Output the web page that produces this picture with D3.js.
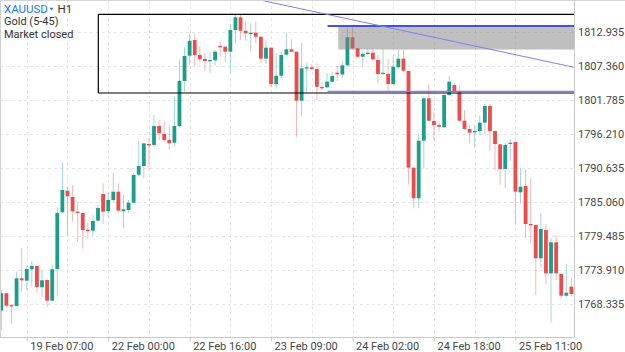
<!DOCTYPE html>
<html>
<head>
<meta charset="utf-8">
<script src="https://cdn.jsdelivr.net/npm/d3@7/dist/d3.min.js"></script>
<style>
body { margin: 0; background: #fff; }
text { font-family: Roboto, "Liberation Sans", Arial, sans-serif; }
</style>
</head>
<body>
<div class="chart-area"></div>
<script>
// XAUUSD H1 candles, left to right
let open = [1767.26,1770.11,1768.16,1768.03,1772.56,1772.17,1774.04,1774.58,1771.09,1772.28,
    1768.89,1774.08,1783.37,1786.90,1785.87,1783.47,1783.25,1780.52,1780.35,1781.99,
    1786.36,1783.53,1785.38,1786.74,1783.53,1783.74,1784.94,1789.52,1790.95,1794.55,
    1794.39,1797.50,1796.19,1795.20,1794.76,1797.50,1804.86,1809.01,1811.58,1809.12,
    1808.47,1808.19,1808.25,1810.59,1810.48,1809.66,1813.21,1815.29,1813.10,1812.61,
    1812.77,1812.12,1808.52,1810.32,1804.37,1805.73,1809.17,1810.05,1809.66,1801.64,
    1806.99,1807.11,1806.83,1803.88,1803.83,1804.75,1806.22,1805.93,1807.43,1812.02,
    1810.22,1808.84,1809.28,1809.50,1808.30,1806.06,1806.01,1804.37,1807.11,1808.52,
    1806.50,1790.67,1785.66,1795.09,1802.03,1798.32,1797.66,1797.28,1802.57,1804.21,
    1803.11,1798.36,1797.01,1796.51,1796.68,1798.04,1800.77,1796.68,1794.50,1790.46,
    1794.55,1794.88,1786.64,1787.67,1781.45,1781.29,1775.84,1780.47,1773.38,1778.46,
    1773.27,1769.71,1771.19];
let high = [1770.65,1770.11,1768.35,1773.64,1777.57,1774.46,1775.39,1774.58,1773.92,1772.28,
    1774.74,1784.19,1791.55,1787.46,1787.84,1785.10,1783.25,1781.66,1782.93,1784.56,
    1788.12,1786.58,1789.75,1788.12,1786.20,1785.38,1789.75,1795.04,1794.71,1795.58,
    1799.30,1798.48,1798.20,1797.66,1802.29,1808.42,1810.38,1812.56,1812.56,1810.48,
    1809.50,1809.66,1809.94,1811.41,1810.48,1814.20,1815.67,1815.67,1814.69,1814.31,
    1814.69,1812.12,1811.46,1810.32,1809.40,1809.66,1812.77,1811.69,1809.66,1811.04,
    1807.76,1807.65,1807.76,1804.59,1806.12,1806.39,1807.32,1808.14,1813.66,1813.66,
    1810.22,1809.66,1810.05,1810.22,1809.12,1810.05,1808.42,1808.84,1810.05,1810.05,
    1806.50,1790.67,1796.30,1802.20,1804.37,1799.84,1798.20,1802.74,1805.68,1804.59,
    1804.21,1800.12,1797.66,1797.66,1799.13,1801.10,1801.10,1796.68,1794.50,1794.76,
    1795.37,1794.88,1790.67,1790.41,1788.93,1781.29,1783.20,1781.45,1779.21,1779.65,
    1773.27,1774.90,1772.73];
let low = [1764.10,1767.70,1765.08,1767.91,1770.37,1770.65,1771.19,1770.20,1769.55,1767.91,
    1768.85,1769.55,1783.25,1779.54,1781.83,1778.55,1777.41,1779.11,1779.49,1781.86,
    1781.45,1782.55,1784.94,1783.47,1780.75,1783.30,1784.81,1789.30,1788.93,1790.41,
    1794.11,1795.20,1794.93,1793.57,1794.11,1797.33,1803.11,1807.48,1807.32,1808.02,
    1806.50,1806.22,1807.37,1808.84,1807.97,1806.22,1811.04,1811.58,1811.46,1809.82,
    1811.04,1807.76,1807.65,1803.83,1803.67,1805.31,1808.84,1809.61,1795.74,1799.13,
    1803.11,1806.66,1801.75,1803.39,1803.72,1804.49,1804.86,1805.31,1807.21,1809.94,
    1808.58,1807.21,1809.12,1808.19,1804.49,1805.85,1803.23,1804.21,1806.78,1806.39,
    1787.95,1784.02,1784.02,1790.57,1798.23,1795.20,1796.73,1797.12,1802.41,1802.95,
    1798.23,1796.89,1794.66,1793.94,1796.02,1796.19,1793.45,1790.29,1787.84,1787.30,
    1791.77,1781.45,1784.73,1779.11,1778.29,1769.83,1774.46,1771.63,1765.29,1772.28,
    1769.29,1769.45,1769.55];
let close = [1770.11,1768.08,1767.99,1772.56,1772.23,1774.08,1774.58,1771.14,1772.23,1768.89,
    1774.04,1783.25,1787.02,1785.99,1783.53,1783.25,1780.47,1780.35,1781.94,1784.07,
    1783.47,1785.38,1786.74,1783.63,1783.86,1784.94,1789.47,1790.95,1794.66,1794.39,
    1797.50,1796.30,1795.20,1794.66,1797.50,1804.86,1808.96,1811.46,1809.12,1808.47,
    1808.14,1808.30,1809.66,1810.48,1809.66,1813.21,1815.29,1813.10,1812.67,1812.77,
    1812.12,1808.52,1810.32,1804.37,1805.73,1809.12,1810.05,1809.66,1801.64,1806.94,
    1807.11,1806.83,1803.93,1803.72,1804.75,1805.68,1805.96,1807.43,1812.02,1810.22,
    1808.84,1809.28,1809.50,1808.42,1806.01,1806.22,1804.37,1807.21,1808.52,1806.55,
    1790.67,1785.66,1795.09,1802.03,1798.36,1797.66,1797.38,1802.57,1804.75,1803.11,
    1798.36,1797.01,1796.40,1796.68,1798.04,1800.77,1796.68,1794.55,1790.46,1794.39,
    1794.76,1786.74,1787.56,1781.45,1781.29,1775.84,1780.63,1773.38,1778.46,1773.38,
    1769.71,1770.20,1769.99];

let priceTicks = [1812.935, 1807.360, 1801.785, 1796.210, 1790.635, 1785.060, 1779.485, 1773.910, 1768.335];
let gridBars = [5, 13, 21, 29, 37, 45, 53, 61, 69, 77, 85, 93, 101];
let labelBars = [5, 21, 37, 53, 69, 85, 101];
let labelTexts = ["19 Feb 07:00", "22 Feb 00:00", "22 Feb 16:00", "23 Feb 09:00", "24 Feb 02:00", "24 Feb 18:00", "25 Feb 11:00"];

// objects drawn on the chart (bar index / price)
let boxStart = 19.06, boxTop = 1815.78, boxBottom = 1802.90;
let zoneStart = 66.2, zoneTop = 1813.70, zoneBottom = 1810.02;
let levelStart = 64.1, upperLevel = 1813.87, lowerLevel = 1803.14;
let trendBars = [30, 112.5], trendPrices = [1821.84, 1807.11];

let W = 625, H = 352;
let plotR = 574.5, plotB = 337.5;
let upCol = "#1b9e8c", downCol = "#ef4b4b";

let svg = d3.select(".chart-area").append("svg")
    .attr("width", W)
    .attr("height", H)
    .style("display", "block")

let x = d3.scaleLinear().domain([0, 112]).range([1.3, 571.4]);
let y = d3.scaleLinear().domain([1768.335, 1812.935]).range([304.1, 31.7]);

svg.append("clipPath").attr("id", "plot-clip")
    .append("rect")
    .attr("x", 0).attr("y", 0)
    .attr("width", plotR).attr("height", plotB)

// grid
svg.selectAll(".hgrid").data(priceTicks).enter().append("line")
    .attr("x1", 0).attr("x2", plotR)
    .attr("y1", d => Math.round(y(d)) + 0.5)
    .attr("y2", d => Math.round(y(d)) + 0.5)
    .attr("stroke", "#e6e6e6")
    .attr("stroke-dasharray", "3,3")
svg.selectAll(".vgrid").data(gridBars).enter().append("line")
    .attr("x1", d => Math.round(x(d)) + 0.5)
    .attr("x2", d => Math.round(x(d)) + 0.5)
    .attr("y1", 0).attr("y2", plotB)
    .attr("stroke", "#e6e6e6")
    .attr("stroke-dasharray", "3,3")

let plot = svg.append("g").attr("clip-path", "url(#plot-clip)");

let bars = d3.range(open.length);

plot.selectAll(".wick").data(bars).enter().append("line")
    .attr("x1", i => x(i)).attr("x2", i => x(i))
    .attr("y1", i => y(high[i]))
    .attr("y2", i => y(low[i]))
    .attr("stroke", i => close[i] >= open[i] ? upCol : downCol)
    .attr("stroke-opacity", 0.4)
    .attr("stroke-width", 1)

plot.selectAll(".body").data(bars).enter().append("rect")
    .attr("x", i => x(i) - 1.9)
    .attr("width", 3.8)
    .attr("y", i => y(Math.max(open[i], close[i])))
    .attr("height", i => Math.max(1.3, Math.abs(y(open[i]) - y(close[i]))))
    .attr("fill", i => close[i] >= open[i] ? upCol : downCol)

// drawings
plot.append("rect")
    .attr("x", x(zoneStart))
    .attr("y", y(zoneTop))
    .attr("width", plotR - x(zoneStart))
    .attr("height", y(zoneBottom) - y(zoneTop))
    .attr("fill", "#808080")
    .attr("fill-opacity", 0.5)

plot.append("path")
    .attr("d", "M" + x(boxStart) + "," + (y(boxTop)) + "H" + (plotR + 10) + "M" + x(boxStart) + "," + y(boxBottom) + "H" + (plotR + 10) + "M" + x(boxStart) + "," + y(boxTop) + "V" + y(boxBottom))
    .attr("fill", "none")
    .attr("stroke", "#000")
    .attr("stroke-width", 1.2)

plot.append("line")
    .attr("x1", x(levelStart)).attr("x2", plotR)
    .attr("y1", y(upperLevel)).attr("y2", y(upperLevel))
    .attr("stroke", "#0a14d8")
    .attr("stroke-width", 1.6)
plot.append("line")
    .attr("x1", x(levelStart)).attr("x2", plotR)
    .attr("y1", y(lowerLevel)).attr("y2", y(lowerLevel))
    .attr("stroke", "#8080f2")
    .attr("stroke-width", 1.6)

plot.append("line")
    .attr("x1", x(trendBars[0])).attr("x2", x(trendBars[1]))
    .attr("y1", y(trendPrices[0])).attr("y2", y(trendPrices[1]))
    .attr("stroke", "#7f7ff5")
    .attr("stroke-width", 1)

// frame
svg.append("line").attr("x1", 0).attr("x2", W).attr("y1", 0.5).attr("y2", 0.5).attr("stroke", "#d6d6d6")
svg.append("line").attr("x1", 0.5).attr("x2", 0.5).attr("y1", 0).attr("y2", plotB).attr("stroke", "#d0d0d0")
svg.append("line").attr("x1", plotR).attr("x2", plotR).attr("y1", 0).attr("y2", plotB).attr("stroke", "#c8c8c8")
svg.append("line").attr("x1", 0).attr("x2", plotR).attr("y1", plotB).attr("y2", plotB).attr("stroke", "#c8c8c8")

// axes
let yAxis = svg.append("g")
    .attr("transform", "translate(" + plotR + ",0)")
    .call(d3.axisRight(y).tickValues(priceTicks).tickFormat(d3.format(".3f")).tickSize(0).tickPadding(3.5))
yAxis.select(".domain").remove()
yAxis.selectAll("text")
    .attr("fill", "#474747")
    .style("font-size", "11px")

let xAxis = svg.append("g")
    .attr("transform", "translate(0," + plotB + ")")
    .call(d3.axisBottom(x).tickValues(labelBars).tickFormat((d, i) => labelTexts[i]).tickSize(4).tickPadding(0.5))
xAxis.select(".domain").remove()
xAxis.selectAll("line").attr("stroke", "#c8c8c8")
xAxis.selectAll("text")
    .attr("text-anchor", "start")
    .attr("x", 3)
    .attr("fill", "#474747")
    .style("font-size", "11px")

// header
let head = svg.append("g").style("font-size", "11px")
head.append("text").attr("x", 4).attr("y", 12.8).attr("fill", "#1e78f0").style("font-size", "11.5px").text("XAUUSD")
head.append("path").attr("d", "M49.5,7.8 L53.5,7.8 L51.5,10.6 Z").attr("fill", "#1e78f0")
head.append("text").attr("x", 57.5).attr("y", 12.8).attr("fill", "#333").style("font-size", "11.5px").text("H1")
head.append("text").attr("x", 4).attr("y", 25.3).attr("fill", "#333").text("Gold (5-45)")
head.append("text").attr("x", 4).attr("y", 37.6).attr("fill", "#333").text("Market closed")
</script>
</body>
</html>
